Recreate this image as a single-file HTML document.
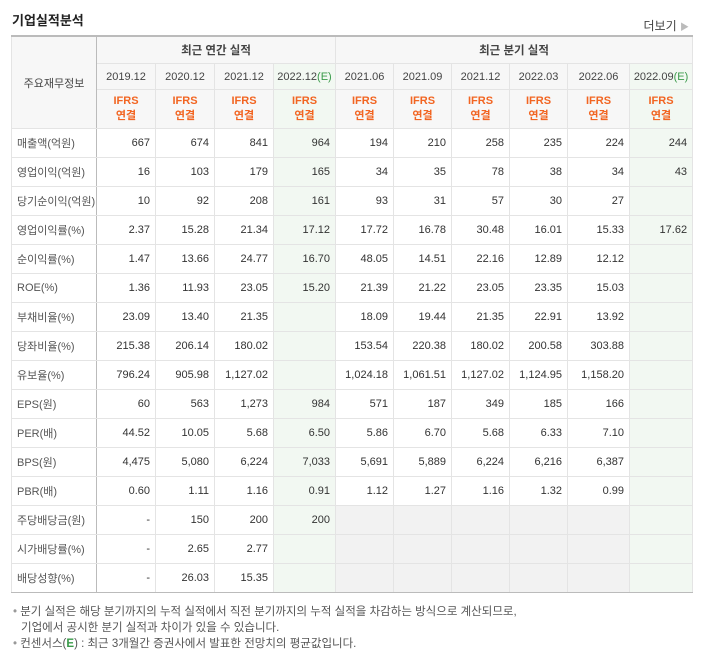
<!DOCTYPE html>
<html><head><meta charset="utf-8"><style>
body{margin:0;width:703px;height:651px;background:#fff;font-family:"Liberation Sans","Noto Sans CJK KR","NanumGothic",sans-serif;color:#333;overflow:hidden;position:relative}
.title{position:absolute;left:12px;top:10px;font-size:13px;font-weight:bold;color:#222}
.more{position:absolute;right:14px;top:17px;font-size:12px;color:#444}
table{position:absolute;left:11px;top:35px;width:681px;border-collapse:collapse;table-layout:fixed;font-size:11px}
td,th{border:1px solid #e4e4e4;padding:0 5px;height:28px;text-align:right;white-space:nowrap;font-weight:normal;overflow:hidden}
table{border-top:2px solid #bbb}
th{background:#f7f7f7;text-align:center;color:#444}
td.l{text-align:left;color:#555;background:#fff;border-right:1px solid #bbb}
.h1{height:26px;font-weight:bold;font-size:11.5px}
.h2{height:25px;padding:0 2px}
.ifrs{color:#f26522;font-weight:bold;line-height:15px;height:38px}
.e{color:#3a9a4a}
.g{background:#f2f8f2}
.gr{background:#f2f2f2}
.sep td{border-top:1px solid #bbb}
.bx{border-left:1px solid #bbb}
tr.last td{border-bottom:1px solid #bbb}
.note{position:absolute;left:13px;font-size:11.5px;color:#555}
.note span{color:#999}
</style></head><body>
<div class="title">기업실적분석</div>
<div class="more">더보기 <span style="color:#bbb;font-size:9px">▶</span></div>
<table>
<colgroup><col style="width:85px"><col style="width:59px"><col style="width:59px"><col style="width:59px"><col style="width:62px"><col style="width:58px"><col style="width:58px"><col style="width:58px"><col style="width:58px"><col style="width:62px"><col style="width:63px"></colgroup>
<tr><th rowspan="3" style="border-right:1px solid #bbb">주요재무정보</th><th colspan="4" class="h1">최근 연간 실적</th><th colspan="6" class="h1 bx">최근 분기 실적</th></tr>
<tr><th class="h2">2019.12</th><th class="h2">2020.12</th><th class="h2">2021.12</th><th class="h2 g">2022.12<span class="e">(E)</span></th><th class="h2 bx">2021.06</th><th class="h2">2021.09</th><th class="h2">2021.12</th><th class="h2">2022.03</th><th class="h2">2022.06</th><th class="h2 g">2022.09<span class="e">(E)</span></th></tr>
<tr><th class="ifrs">IFRS<br>연결</th><th class="ifrs">IFRS<br>연결</th><th class="ifrs">IFRS<br>연결</th><th class="ifrs g">IFRS<br>연결</th><th class="ifrs bx">IFRS<br>연결</th><th class="ifrs">IFRS<br>연결</th><th class="ifrs">IFRS<br>연결</th><th class="ifrs">IFRS<br>연결</th><th class="ifrs">IFRS<br>연결</th><th class="ifrs g">IFRS<br>연결</th></tr>
<tbody id="tb"></tbody>
</table>
<div class="note" style="top:603px"><span>•</span> 분기 실적은 해당 분기까지의 누적 실적에서 직전 분기까지의 누적 실적을 차감하는 방식으로 계산되므로,</div>
<div class="note" style="top:619px;left:21px">기업에서 공시한 분기 실적과 차이가 있을 수 있습니다.</div>
<div class="note" style="top:635px"><span>•</span> 컨센서스(<b style="color:#3a9a4a">E</b>) : 최근 3개월간 증권사에서 발표한 전망치의 평균값입니다.</div>
<script>
const labels=["매출액(억원)","영업이익(억원)","당기순이익(억원)","영업이익률(%)","순이익률(%)","ROE(%)","부채비율(%)","당좌비율(%)","유보율(%)","EPS(원)","PER(배)","BPS(원)","PBR(배)","주당배당금(원)","시가배당률(%)","배당성향(%)"];
const values=[
["667","674","841","964","194","210","258","235","224","244"],
["16","103","179","165","34","35","78","38","34","43"],
["10","92","208","161","93","31","57","30","27",""],
["2.37","15.28","21.34","17.12","17.72","16.78","30.48","16.01","15.33","17.62"],
["1.47","13.66","24.77","16.70","48.05","14.51","22.16","12.89","12.12",""],
["1.36","11.93","23.05","15.20","21.39","21.22","23.05","23.35","15.03",""],
["23.09","13.40","21.35","","18.09","19.44","21.35","22.91","13.92",""],
["215.38","206.14","180.02","","153.54","220.38","180.02","200.58","303.88",""],
["796.24","905.98","1,127.02","","1,024.18","1,061.51","1,127.02","1,124.95","1,158.20",""],
["60","563","1,273","984","571","187","349","185","166",""],
["44.52","10.05","5.68","6.50","5.86","6.70","5.68","6.33","7.10",""],
["4,475","5,080","6,224","7,033","5,691","5,889","6,224","6,216","6,387",""],
["0.60","1.11","1.16","0.91","1.12","1.27","1.16","1.32","0.99",""],
["-","150","200","200","","","","","",""],
["-","2.65","2.77","","","","","","",""],
["-","26.03","15.35","","","","","","",""]];
const seps=[3,6,9,13];
const tb=document.getElementById('tb');
labels.forEach((lab,i)=>{
 const tr=document.createElement('tr');
 
 
 if(seps.includes(i))tr.className='sep';
 if(i===labels.length-1)tr.className+=' last';
 const l=document.createElement('td');l.className='l';l.textContent=lab;
 
 
 tr.appendChild(l);
 values[i].forEach((v,j)=>{
  const td=document.createElement('td');td.textContent=v;
  
  
  let c=[];
  if(j===3||j===9)c.push('g');
  if(i>=13&&j>=4&&j!==9)c.push('gr');
  if(j===4)c.push('bx');
  td.className=c.join(' ');
  tr.appendChild(td);
 });
 tb.appendChild(tr);
});
</script>
</body></html>
